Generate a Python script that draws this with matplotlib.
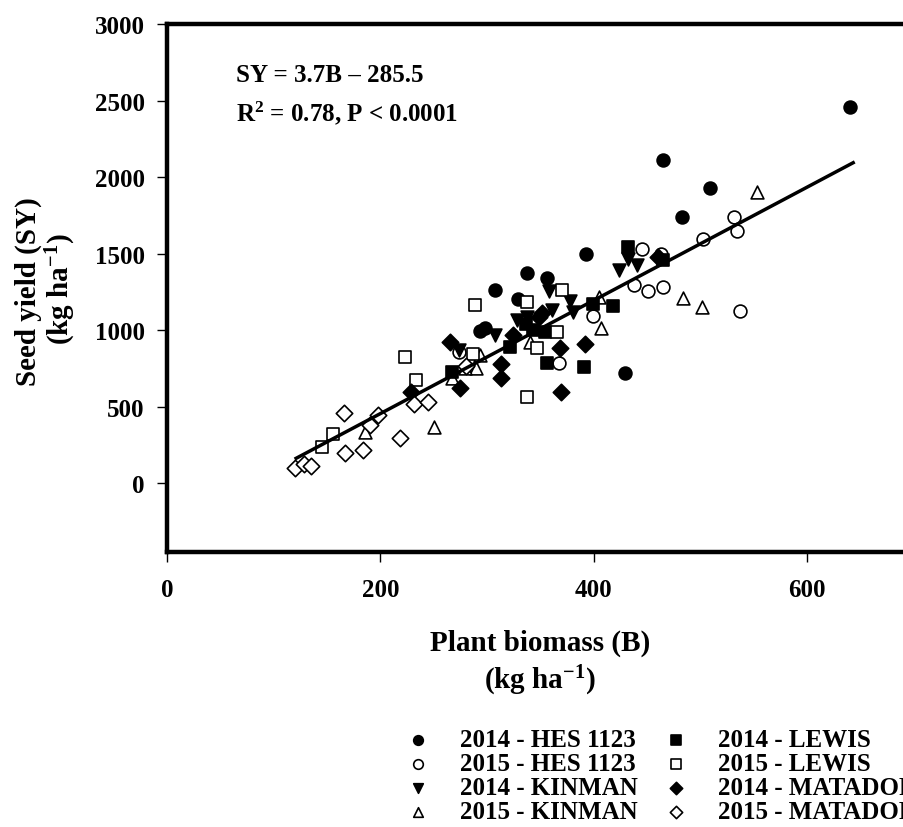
import numpy as np
import matplotlib
matplotlib.use("Agg")
import matplotlib.pyplot as plt

plt.rcParams['font.family'] = ['Liberation Serif', 'DejaVu Serif']
plt.rcParams['font.weight'] = 'bold'
plt.rcParams['mathtext.fontset'] = 'custom'
plt.rcParams['mathtext.rm'] = 'Liberation Serif:bold'
plt.rcParams['mathtext.default'] = 'rm'

# biomass (x) / seed yield (y), kg ha-1
hes14_x = [640, 465, 483, 509, 393, 356, 337, 307, 329, 293, 298, 429]
hes14_y = [2455, 2109, 1740, 1931, 1500, 1342, 1370, 1261, 1202, 996, 1011, 722]
hes15_x = [502, 531, 534, 537, 445, 463, 438, 451, 465, 399, 367, 274]
hes15_y = [1598, 1740, 1648, 1124, 1528, 1500, 1294, 1257, 1283, 1092, 787, 855]
kin14_x = [424, 432, 440, 358, 378, 361, 380, 307, 328, 337, 274]
kin14_y = [1392, 1463, 1424, 1255, 1189, 1131, 1115, 967, 1066, 1087, 870]
kin15_x = [553, 484, 501, 405, 407, 340, 290, 293, 250, 186, 267, 279]
kin15_y = [1905, 1207, 1152, 1218, 1015, 924, 750, 837, 370, 337, 685, 750]
lew14_x = [432, 465, 399, 418, 354, 356, 391, 321, 267, 336, 343]
lew14_y = [1544, 1457, 1168, 1159, 989, 787, 757, 892, 729, 1040, 1000]
lew15_x = [370, 289, 337, 347, 365, 337, 287, 223, 233, 156, 145]
lew15_y = [1261, 1163, 1185, 881, 985, 565, 841, 826, 674, 320, 233]
mat14_x = [460, 368, 392, 369, 351, 265, 313, 313, 275, 229, 349, 324]
mat14_y = [1479, 885, 907, 598, 1109, 924, 776, 685, 624, 594, 1087, 967]
mat15_x = [166, 198, 190, 167, 184, 218, 120, 128, 135, 231, 245, 280]
mat15_y = [457, 446, 380, 196, 217, 298, 102, 124, 115, 515, 533, 765]

slope, intercept = 3.7, -285.5
line_x = [121, 643]

series = [
    ("2014 - HES 1123", hes14_x, hes14_y, 'o', 'black'),
    ("2015 - HES 1123", hes15_x, hes15_y, 'o', 'white'),
    ("2014 - KINMAN", kin14_x, kin14_y, 'v', 'black'),
    ("2015 - KINMAN", kin15_x, kin15_y, '^', 'white'),
    ("2014 - LEWIS", lew14_x, lew14_y, 's', 'black'),
    ("2015 - LEWIS", lew15_x, lew15_y, 's', 'white'),
    ("2014 - MATADOR", mat14_x, mat14_y, 'D', 'black'),
    ("2015 - MATADOR", mat15_x, mat15_y, 'D', 'white'),
]

W, H = 904, 828
fig = plt.figure(figsize=(W / 100, H / 100), dpi=100)
ax = fig.add_axes([167 / W, 1 - 553 / H, (914 - 167) / W, (553 - 25) / H])

handles = []
for name, xs, ys, mk, fc in series:
    ms = 70 if mk == 'D' else 85
    h = ax.scatter(xs, ys, marker=mk, s=ms, facecolors=fc, edgecolors='black',
                   linewidths=1.2, label=name, zorder=3)
    handles.append(h)

lx = np.array(line_x)
ax.plot(lx, slope * lx + intercept, color='black', lw=2.5, zorder=4)

ax.set_xlim(0, 700)
ax.set_ylim(-450, 3000)
ax.set_xticks([0, 200, 400, 600])
ax.set_yticks([0, 500, 1000, 1500, 2000, 2500, 3000])
ax.tick_params(axis='both', labelsize=18, length=7, width=1, direction='out')
ax.tick_params(axis='x', pad=12)
ax.tick_params(axis='y', pad=9)
for sp in ax.spines.values():
    sp.set_linewidth(3.2)

ax.text(65, 2673, "SY = 3.7B \u2013 285.5", fontsize=18,
        fontweight='bold', ha='left', va='center')
ax.text(65, 2425, r"R$^2$ = 0.78, P < 0.0001", fontsize=18,
        fontweight='bold', ha='left', va='center')

# axis titles, two lines each
fig.text(540 / W, 1 - 643 / H, "Plant biomass (B)", fontsize=21,
         fontweight='bold', ha='center', va='center')
fig.text(540 / W, 1 - 681 / H, r"(kg ha$^{-1}$)", fontsize=21,
         fontweight='bold', ha='center', va='center')
fig.text(28 / W, 1 - 292 / H, "Seed yield (SY)", fontsize=21,
         fontweight='bold', ha='center', va='center', rotation=90)
fig.text(61 / W, 1 - 289 / H, r"(kg ha$^{-1}$)", fontsize=21,
         fontweight='bold', ha='center', va='center', rotation=90)

leg = fig.legend(handles=handles, loc='upper left', ncol=2,
                 bbox_to_anchor=(383 / W, 1 - 707 / H),
                 frameon=False, fontsize=18, handlelength=1.0,
                 handletextpad=1.2, columnspacing=1.0, labelspacing=0.04,
                 markerscale=0.75, borderpad=0.4)

fig.savefig("out.png", dpi=100)
